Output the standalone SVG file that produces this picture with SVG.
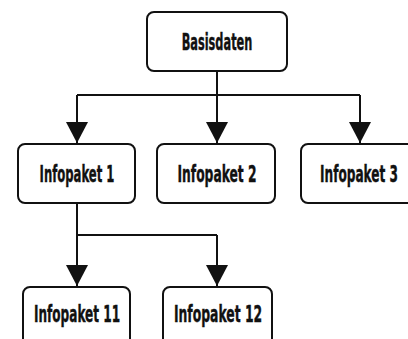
<svg xmlns="http://www.w3.org/2000/svg" width="408" height="339" viewBox="0 0 408 339">
<style>
.box{fill:#fff;stroke:#111;stroke-width:2}
.lbl{font-family:"Liberation Sans Narrow","DejaVu Sans Condensed","Liberation Sans",sans-serif;font-weight:bold;font-size:23.5px;fill:#111;stroke:#111;stroke-width:0.4;text-anchor:middle}
.ln{fill:none;stroke:#111;stroke-width:2}
</style>
<defs>
<marker id="ah" markerUnits="userSpaceOnUse" markerWidth="22" markerHeight="22" refX="21" refY="11" orient="auto">
<path d="M0,0 L21,11 L0,22 Z" fill="#111"/>
</marker>
</defs>
<rect width="408" height="339" fill="#fff"/>
<g id="connectors">
<path class="ln" d="M217,71 V95"/>
<path class="ln" d="M77,95 H360"/>
<path class="ln" d="M77,95 V143" marker-end="url(#ah)"/>
<path class="ln" d="M217,95 V143" marker-end="url(#ah)"/>
<path class="ln" d="M360,95 V143" marker-end="url(#ah)"/>
<path class="ln" d="M77,203 V235 H217"/>
<path class="ln" d="M77,235 V286" marker-end="url(#ah)"/>
<path class="ln" d="M217,235 V286" marker-end="url(#ah)"/>
</g>
<g id="basisdaten">
<rect class="box" x="147" y="12" width="140" height="59" rx="7"/>
<text class="lbl" transform="translate(217,50) scale(0.7,1)" textLength="101" lengthAdjust="spacingAndGlyphs">Basisdaten</text>
</g>
<g id="infopaket1">
<rect class="box" x="18" y="144" width="117" height="59" rx="7"/>
<text class="lbl" transform="translate(77,182) scale(0.7,1)" textLength="107" lengthAdjust="spacingAndGlyphs">Infopaket 1</text>
</g>
<g id="infopaket2">
<rect class="box" x="157" y="144" width="118" height="59" rx="7"/>
<text class="lbl" transform="translate(217,182) scale(0.7,1)" textLength="113" lengthAdjust="spacingAndGlyphs">Infopaket 2</text>
</g>
<g id="infopaket3">
<path class="box" d="M408,144 H308 A7,7 0 0 0 301,151 V196 A7,7 0 0 0 308,203 H408"/>
<text class="lbl" transform="translate(359,182) scale(0.6,1)" textLength="130" lengthAdjust="spacingAndGlyphs">Infopaket 3</text>
</g>
<g id="infopaket11">
<rect class="box" x="23" y="287" width="107" height="70" rx="7"/>
<text class="lbl" transform="translate(77,322) scale(0.7,1)" textLength="123" lengthAdjust="spacingAndGlyphs">Infopaket 11</text>
</g>
<g id="infopaket12">
<rect class="box" x="163" y="287" width="109" height="70" rx="7"/>
<text class="lbl" transform="translate(218,322) scale(0.7,1)" textLength="126" lengthAdjust="spacingAndGlyphs">Infopaket 12</text>
</g>
</svg>
